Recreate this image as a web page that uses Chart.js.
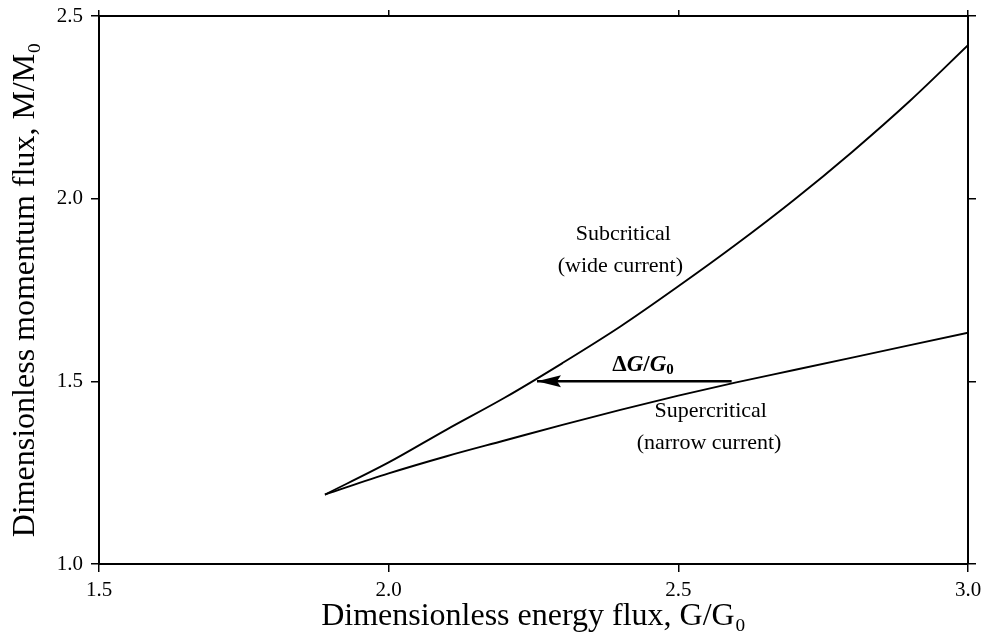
<!DOCTYPE html>
<html>
<head>
<meta charset="utf-8">
<script src="https://cdn.jsdelivr.net/npm/chart.js@4/dist/chart.umd.min.js"></script>
<style>
  html, body { margin: 0; padding: 0; background: #fff; }
  #wrap { width: 981px; height: 640px; }
</style>
</head>
<body>
<div id="wrap"><canvas id="c" width="981" height="640"></canvas></div>
<script>
// ---- Data ----
const xTicks = [1.5, 2.0, 2.5, 3.0];
const yTicks = [1.0, 1.5, 2.0, 2.5];

// Subcritical (wide current) branch
const subX = [1.89, 2.00, 2.10, 2.20, 2.30, 2.40, 2.50, 2.60, 2.70, 2.80, 2.90, 3.00];
const subY = [1.19, 1.278, 1.368, 1.455, 1.550, 1.650, 1.760, 1.875, 1.997, 2.128, 2.268, 2.420];

// Supercritical (narrow current) branch
const supX = [1.89, 2.00, 2.10, 2.20, 2.30, 2.40, 2.50, 2.60, 2.70, 2.80, 2.90, 3.00];
const supY = [1.19, 1.248, 1.295, 1.338, 1.381, 1.422, 1.461, 1.497, 1.531, 1.565, 1.599, 1.633];

// ΔG/G0 arrow (from supercritical to subcritical at constant M/M0)
const arrowX = [2.592, 2.256];
const arrowY = [1.50, 1.50];

const FONT = "'Liberation Serif', 'DejaVu Serif', serif";

const toPts = (xs, ys) => xs.map((x, i) => ({x: x, y: ys[i]}));

const annot = {
  id: 'annot',
  afterDatasetsDraw(chart) {
    const ctx = chart.ctx;
    const xs = chart.scales.x, ys = chart.scales.y;
    const px = v => xs.getPixelForValue(v);
    const py = v => ys.getPixelForValue(v);
    ctx.save();
    ctx.fillStyle = '#000';
    // arrow head at the subcritical end
    const tipX = px(arrowX[1]), tipY = py(arrowY[1]);
    const dir = Math.sign(px(arrowX[0]) - tipX);
    ctx.beginPath();
    ctx.moveTo(tipX, tipY);
    ctx.lineTo(tipX + dir * 24, tipY - 6);
    ctx.lineTo(tipX + dir * 20, tipY);
    ctx.lineTo(tipX + dir * 24, tipY + 6);
    ctx.closePath();
    ctx.fill();

    ctx.textAlign = 'center';
    ctx.textBaseline = 'middle';
    ctx.font = '22px ' + FONT;
    ctx.fillText('Subcritical', px(2.405), py(1.902));
    ctx.fillText('(wide current)', px(2.40), py(1.815));
    ctx.fillText('Supercritical', px(2.556), py(1.419));
    ctx.fillText('(narrow current)', px(2.553), py(1.331));

    // ΔG/G0 label with mixed styles
    const cx = px(2.439), cy = py(1.545);
    const parts = [
      {t: 'Δ', f: 'bold 23px ' + FONT, dy: 0},
      {t: 'G', f: 'italic bold 23px ' + FONT, dy: 0},
      {t: '/', f: 'bold 23px ' + FONT, dy: 0},
      {t: 'G', f: 'italic bold 23px ' + FONT, dy: 0},
      {t: '0', f: 'bold 15px ' + FONT, dy: 5}
    ];
    let total = 0;
    parts.forEach(p => { ctx.font = p.f; p.w = ctx.measureText(p.t).width; total += p.w; });
    let x0 = cx - total / 2;
    ctx.textAlign = 'left';
    parts.forEach(p => { ctx.font = p.f; ctx.fillText(p.t, x0, cy + p.dy); x0 += p.w; });
    ctx.restore();
  }
};

const tickFont = {family: FONT, size: 21};
const gridOpts = {drawOnChartArea: false, drawTicks: true, tickLength: 8, color: '#000', lineWidth: 1.5};
const borderOpts = {display: true, color: '#000', width: 2};
const noPadH = s => { s.paddingLeft = 0; s.paddingRight = 0; };
const noPadV = s => { s.paddingTop = 0; s.paddingBottom = 0; };

new Chart(document.getElementById('c'), {
  type: 'scatter',
  data: {
    datasets: [
      {label: 'Subcritical (wide current)', data: toPts(subX, subY), showLine: true,
       borderColor: '#000', borderWidth: 1.9, pointRadius: 0, fill: false,
       cubicInterpolationMode: 'monotone'},
      {label: 'Supercritical (narrow current)', data: toPts(supX, supY), showLine: true,
       borderColor: '#000', borderWidth: 1.9, pointRadius: 0, fill: false,
       cubicInterpolationMode: 'monotone'},
      {label: 'ΔG/G0', data: toPts(arrowX, arrowY), showLine: true,
       borderColor: '#000', borderWidth: 2.5, pointRadius: 0, fill: false}
    ]
  },
  options: {
    responsive: false,
    animation: false,
    devicePixelRatio: 1,
    layout: {padding: 0},
    plugins: {legend: {display: false}, tooltip: {enabled: false}},
    scales: {
      x: {
        type: 'linear', position: 'bottom', min: 1.5, max: 3.0,
        afterBuildTicks: s => { s.ticks = xTicks.map(v => ({value: v})); },
        afterFit: s => { s.height = 76; noPadH(s); },
        ticks: {color: '#000', font: tickFont, padding: 6, callback: v => v.toFixed(1)},
        grid: gridOpts, border: borderOpts,
        title: {display: true, text: 'Dimensionless energy flux, G/G₀', color: '#000',
                font: {family: FONT, size: 32}, padding: {top: 0, bottom: 4}}
      },
      x2: {
        type: 'linear', position: 'top', min: 1.5, max: 3.0,
        afterBuildTicks: s => { s.ticks = xTicks.map(v => ({value: v})); },
        afterFit: s => { s.height = 16; noPadH(s); },
        ticks: {display: false},
        grid: Object.assign({}, gridOpts, {tickLength: 6}), border: borderOpts
      },
      y: {
        type: 'linear', position: 'left', min: 1.0, max: 2.5,
        afterBuildTicks: s => { s.ticks = yTicks.map(v => ({value: v})); },
        afterFit: s => { s.width = 99; noPadV(s); },
        ticks: {color: '#000', font: tickFont, padding: 8, callback: v => v.toFixed(1)},
        grid: gridOpts, border: borderOpts,
        title: {display: true, text: 'Dimensionless momentum flux, M/M₀', color: '#000',
                font: {family: FONT, size: 32}, padding: {top: 6, bottom: 0}}
      },
      y2: {
        type: 'linear', position: 'right', min: 1.0, max: 2.5,
        afterBuildTicks: s => { s.ticks = yTicks.map(v => ({value: v})); },
        afterFit: s => { s.width = 13; noPadV(s); },
        ticks: {display: false},
        grid: Object.assign({}, gridOpts, {tickLength: 8}), border: borderOpts
      }
    }
  },
  plugins: [annot]
});
</script>
</body>
</html>
